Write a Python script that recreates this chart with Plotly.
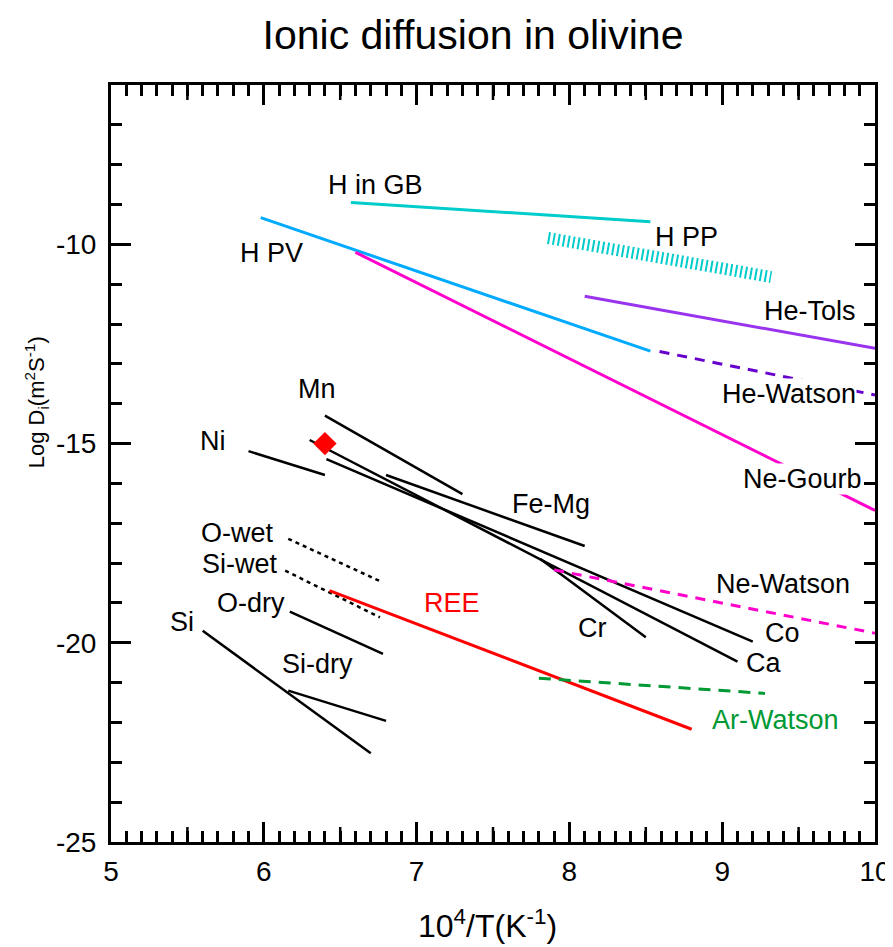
import plotly.graph_objects as go

# ---------------- data ----------------
names = ["H in GB", "H PP", "H PV", "Ne-Gourb", "He-Tols", "He-Watson",
         "Mn", "Ni", "Fe-Mg", "Co", "Ca", "Cr", "Ne-Watson",
         "O-wet", "Si-wet", "O-dry", "Si", "Si-dry", "REE", "Ar-Watson"]
x_start = [6.57, 7.86, 5.98, 6.60, 8.10, 8.59,
           6.40, 5.90, 6.80, 6.41, 6.30, 7.81, 7.90,
           6.16, 6.14, 6.17, 5.60, 6.16, 6.43, 7.80]
y_start = [-8.95, -9.84, -9.33, -10.20, -11.30, -12.69,
           -14.30, -15.19, -15.79, -15.39, -14.91, -17.90, -18.17,
           -17.39, -18.19, -19.22, -19.70, -21.20, -18.69, -20.89]
x_end = [8.53, 9.32, 8.53, 10.0, 10.0, 10.0,
         7.30, 6.40, 8.10, 9.20, 9.10, 8.50, 10.0,
         6.77, 6.76, 6.78, 6.70, 6.80, 8.80, 9.28]
y_end = [-9.43, -10.82, -12.68, -16.68, -12.61, -13.78,
         -16.27, -15.79, -17.57, -19.97, -20.47, -19.86, -19.76,
         -18.47, -19.36, -20.28, -22.77, -21.96, -22.17, -21.27]

point_x = [6.4]
point_y = [-15.0]

x_ticks = [5, 6, 7, 8, 9, 10]
x_tick_text = ["5", "6", "7", "8", "9", "10"]
y_ticks = [-25, -20, -15, -10]
y_tick_text = ["-25", "-20", "-15", "-10"]

# ---------------- styles ----------------
BLACK = "black"
CYAN = "#00CCCC"
BLUE = "#00AAFF"
MAGENTA = "#FF00CC"
PURPLE = "#9933EE"
DPURPLE = "#6600CC"
RED = "#FF0000"
GREEN = "#009933"

style = {
    "H in GB": dict(color=CYAN, width=3),
    "H PP": dict(color=CYAN, width=12, dash="2px,3px"),
    "H PV": dict(color=BLUE, width=3),
    "Ne-Gourb": dict(color=MAGENTA, width=3),
    "He-Tols": dict(color=PURPLE, width=3),
    "He-Watson": dict(color=DPURPLE, width=3, dash="10px,8px"),
    "Mn": dict(color=BLACK, width=2.5),
    "Ni": dict(color=BLACK, width=2.5),
    "Fe-Mg": dict(color=BLACK, width=2.5),
    "Co": dict(color=BLACK, width=2.5),
    "Ca": dict(color=BLACK, width=2.5),
    "Cr": dict(color=BLACK, width=2.5),
    "Ne-Watson": dict(color=MAGENTA, width=3, dash="10px,8px"),
    "O-wet": dict(color=BLACK, width=2.5, dash="4px,4px"),
    "Si-wet": dict(color=BLACK, width=2.5, dash="4px,4px"),
    "O-dry": dict(color=BLACK, width=2.5),
    "Si": dict(color=BLACK, width=2.5),
    "Si-dry": dict(color=BLACK, width=2.5),
    "REE": dict(color=RED, width=3),
    "Ar-Watson": dict(color=GREEN, width=3, dash="12px,8px"),
}

# label positions (layout, data coords) and colours
labels = {
    "H in GB": (6.733, -8.51, BLACK, False),
    "H PP": (8.767, -9.81, BLACK, False),
    "H PV": (6.053, -10.22, BLACK, False),
    "He-Tols": (9.572, -11.67, BLACK, False),
    "He-Watson": (9.434, -13.76, BLACK, True),
    "Ne-Gourb": (9.526, -15.89, BLACK, True),
    "Fe-Mg": (7.878, -16.52, BLACK, False),
    "Mn": (6.347, -13.63, BLACK, False),
    "Ni": (5.667, -14.94, BLACK, False),
    "O-wet": (5.831, -17.24, BLACK, False),
    "Si-wet": (5.844, -18.02, BLACK, False),
    "O-dry": (5.916, -19.00, BLACK, False),
    "Si": (5.464, -19.48, BLACK, False),
    "Si-dry": (6.354, -20.53, BLACK, False),
    "REE": (7.230, -19.00, RED, False),
    "Cr": (8.152, -19.63, BLACK, False),
    "Co": (9.395, -19.75, BLACK, False),
    "Ca": (9.271, -20.51, BLACK, False),
    "Ne-Watson": (9.395, -18.52, BLACK, False),
    "Ar-Watson": (9.349, -21.94, GREEN, False),
}

FONT = "Liberation Sans, Arial, sans-serif"

# the page body adds an 8px margin; size the figure so the plot area
# lands where the reference has it
W, H = 885, 939
PL, PR, PT, PB = 103, 18, 77, 105
plot_h = H - PT - PB

fig = go.Figure()
for i, n in enumerate(names):
    fig.add_trace(go.Scatter(
        x=[x_start[i], x_end[i]], y=[y_start[i], y_end[i]],
        mode="lines", line=style[n], name=n, showlegend=False,
        hoverinfo="skip"))

fig.add_trace(go.Scatter(
    x=point_x, y=point_y, mode="markers",
    marker=dict(symbol="diamond", size=18, color=RED, line=dict(width=0)),
    showlegend=False, hoverinfo="skip"))

for n, (lx, ly, col, bg) in labels.items():
    fig.add_annotation(
        x=lx, y=ly, xref="x", yref="y", text=n, showarrow=False,
        font=dict(family=FONT, size=27, color=col),
        xanchor="center", yanchor="middle",
        bgcolor="white" if bg else "rgba(0,0,0,0)", borderpad=0)

# medium (half-unit) ticks on x axis, top and bottom
for xv in [5.5, 6.5, 7.5, 8.5, 9.5]:
    for y0, y1 in [(0, 15 / plot_h), (1, 1 - 15 / plot_h)]:
        fig.add_shape(type="line", xref="x", yref="paper",
                      x0=xv, x1=xv, y0=y0, y1=y1,
                      line=dict(color="black", width=2.5))

axis_common = dict(
    showgrid=False, zeroline=False, showline=True, linewidth=3,
    linecolor="black", mirror="ticks", ticks="inside", ticklen=20,
    tickwidth=2.5, tickcolor="black", automargin=False,
    tickfont=dict(family=FONT, size=28, color="black"),
)

fig.update_xaxes(range=[5, 10], tickvals=x_ticks, ticktext=x_tick_text,
                 minor=dict(dtick=0.1, ticks="inside", ticklen=11,
                            tickwidth=2.5, tickcolor="black"),
                 ticklabelstandoff=2, **axis_common)
fig.update_yaxes(range=[-25, -6], tickvals=y_ticks, ticktext=y_tick_text,
                 minor=dict(dtick=1, ticks="inside", ticklen=11,
                            tickwidth=2.5, tickcolor="black"),
                 ticklabelstandoff=6, **axis_common)

fig.add_annotation(
    x=0.493, y=-(946 - 842) / plot_h, xref="paper", yref="paper",
    text="10<sup>4</sup>/T(K<sup>-1</sup>)", showarrow=False,
    font=dict(family=FONT, size=32, color="black"),
    xanchor="center", yanchor="bottom")
fig.add_annotation(
    x=-0.098, y=0.581, xref="paper", yref="paper",
    text="Log D<sub>i</sub>(m<sup>2</sup>S<sup>-1</sup>)", showarrow=False,
    font=dict(family=FONT, size=22, color="black"), textangle=-90,
    xanchor="center", yanchor="middle")

fig.update_layout(
    width=W, height=H,
    margin=dict(l=PL, r=PR, t=PT, b=PB, autoexpand=False),
    paper_bgcolor="white", plot_bgcolor="white",
    title=dict(text="Ionic diffusion in olivine", x=465 / W, xanchor="center",
               y=1 - 27 / H, yanchor="middle",
               font=dict(family=FONT, size=41, color="black")),
    showlegend=False,
)

fig.write_html("out.html")
